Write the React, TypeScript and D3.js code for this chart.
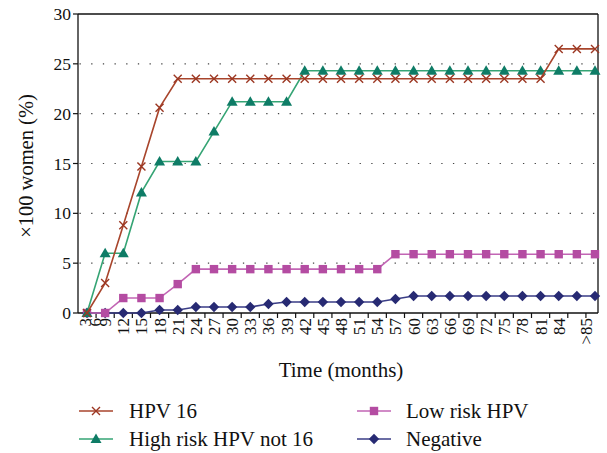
import React from "react";
import * as d3 from "d3";

const months = ["3","6","9","12","15","18","21","24","27","30","33","36","39","42","45","48","51","54","57","60","63","66","69","72","75","78","81","84",">85"];
const hpv16 = [0,3.0,8.8,14.7,20.6,23.5,23.5,23.5,23.5,23.5,23.5,23.5,23.5,23.5,23.5,23.5,23.5,23.5,23.5,23.5,23.5,23.5,23.5,23.5,23.5,23.5,26.5,26.5,26.5];
const highRisk = [0,6.0,6.0,12.1,15.2,15.2,15.2,18.2,21.2,21.2,21.2,21.2,24.3,24.3,24.3,24.3,24.3,24.3,24.3,24.3,24.3,24.3,24.3,24.3,24.3,24.3,24.3,24.3,24.3];
const lowRisk = [0,0,1.5,1.5,1.5,2.9,4.4,4.4,4.4,4.4,4.4,4.4,4.4,4.4,4.4,4.4,4.4,5.9,5.9,5.9,5.9,5.9,5.9,5.9,5.9,5.9,5.9,5.9,5.9];
const negative = [0,0,0,0,0.3,0.3,0.6,0.6,0.6,0.6,0.9,1.1,1.1,1.1,1.1,1.1,1.1,1.4,1.7,1.7,1.7,1.7,1.7,1.7,1.7,1.7,1.7,1.7,1.7];
const yTicks = [0, 5, 10, 15, 20, 25, 30];
const seriesNames = ["HPV 16", "High risk HPV not 16", "Low risk HPV", "Negative"];

const W = 607, H = 453;
const L = 78, R = 598, T = 14, B = 313;
const FONT = "'Liberation Serif', 'Times New Roman', serif";

function Marker({ kind, color, cx, cy }: { kind: string; color: string; cx: number; cy: number }) {
  if (kind === "x") {
    return <path d={`M${cx - 4},${cy - 4}L${cx + 4},${cy + 4}M${cx - 4},${cy + 4}L${cx + 4},${cy - 4}`} stroke={color} strokeWidth={1.4} fill="none" />;
  }
  if (kind === "tri") {
    return <path d={`M${cx},${cy - 5.5}L${cx + 5.5},${cy + 4}L${cx - 5.5},${cy + 4}Z`} fill={color} />;
  }
  if (kind === "sq") {
    return <rect x={cx - 4.2} y={cy - 4.2} width={8.4} height={8.4} fill={color} />;
  }
  return <path d={`M${cx},${cy - 5.2}L${cx + 5.2},${cy}L${cx},${cy + 5.2}L${cx - 5.2},${cy}Z`} fill={color} />;
}

export default function App() {
  const x = d3.scalePoint<string>().domain(months).range([87, 595]);
  const y = d3.scaleLinear().domain([0, 30]).range([B, T]);
  const line = d3.line<number>().x((_, i) => x(months[i]) as number).y((d) => y(d));

  const series = [
    { name: seriesNames[3], data: negative, line: "#3a3d86", mark: "#272a73", kind: "dia" },
    { name: seriesNames[2], data: lowRisk, line: "#c265b4", mark: "#b44ca2", kind: "sq" },
    { name: seriesNames[1], data: highRisk, line: "#35a474", mark: "#0e7c66", kind: "tri" },
    { name: seriesNames[0], data: hpv16, line: "#a8452c", mark: "#9c3722", kind: "x" },
  ];

  const pts = months.map((m) => x(m) as number);
  const mids = pts.slice(1).map((p, i) => (p + pts[i]) / 2);
  const labelX = (k: number) => {
    if (k === 0) return pts[0] - 2;
    if (k === 1) return mids[0] - 1;
    if (k === months.length - 1) return mids[mids.length - 1];
    return pts[k - 1];
  };

  const legend = [
    { s: series[3], lx: 79, tx: 129, ly: 411 },
    { s: series[2], lx: 79, tx: 129, ly: 439 },
    { s: series[1], lx: 357, tx: 406, ly: 411 },
    { s: series[0], lx: 357, tx: 406, ly: 439 },
  ];

  return (
    <svg width={W} height={H} style={{ position: "absolute", left: 0, top: 0, background: "#fff" }} fontFamily={FONT}>
      {/* grid */}
      {yTicks.filter((t) => t > 0 && t < 30).map((t) => (
        <line key={t} x1={L} x2={R} y1={y(t)} y2={y(t)} stroke="#444" strokeWidth={1.2} strokeDasharray="1.3,10.37" strokeDashoffset={-1.5} />
      ))}
      {/* frame */}
      <line x1={L} x2={R} y1={T} y2={T} stroke="#111" strokeWidth={1.5} />
      <line x1={R} x2={R} y1={T} y2={B} stroke="#111" strokeWidth={1.3} />
      <line x1={L} x2={L} y1={T} y2={B} stroke="#111" strokeWidth={1.3} />
      <line x1={L} x2={R} y1={B} y2={B} stroke="#111" strokeWidth={1.3} />
      {/* y ticks */}
      {yTicks.map((t) => (
        <g key={t}>
          <line x1={L - 5} x2={L} y1={y(t)} y2={y(t)} stroke="#111" strokeWidth={1.2} />
          <text x={71} y={y(t) + 6} textAnchor="end" fontSize={17.5} fill="#111">{t}</text>
        </g>
      ))}
      {/* x ticks */}
      {mids.map((m, i) => (
        <line key={i} x1={m} x2={m} y1={B} y2={B + 5} stroke="#111" strokeWidth={1.2} />
      ))}
      {months.map((m, k) => (
        <text key={m} transform={`translate(${labelX(k) + 6},${B + 5}) rotate(-90)`} textAnchor="end" fontSize={17} fill="#111">{m}</text>
      ))}
      {/* series */}
      {series.map((s) => (
        <g key={s.name}>
          <path d={line(s.data) || ""} fill="none" stroke={s.line} strokeWidth={1.6} />
          {s.data.map((v, i) => (
            <Marker key={i} kind={s.kind} color={s.mark} cx={pts[i]} cy={y(v)} />
          ))}
        </g>
      ))}
      {/* axis titles */}
      <text x={341} y={377} textAnchor="middle" fontSize={21} fill="#111">Time (months)</text>
      <text transform={`translate(33,166) rotate(-90)`} textAnchor="middle" fontSize={20.5} fill="#111">×100 women (%)</text>
      {/* legend */}
      {legend.map(({ s, lx, tx, ly }) => (
        <g key={s.name}>
          <line x1={lx} x2={lx + 34} y1={ly} y2={ly} stroke={s.line} strokeWidth={1.6} />
          <Marker kind={s.kind} color={s.mark} cx={lx + 17} cy={ly} />
          <text x={tx} y={ly + 6.5} fontSize={21} fill="#111">{s.name}</text>
        </g>
      ))}
    </svg>
  );
}
